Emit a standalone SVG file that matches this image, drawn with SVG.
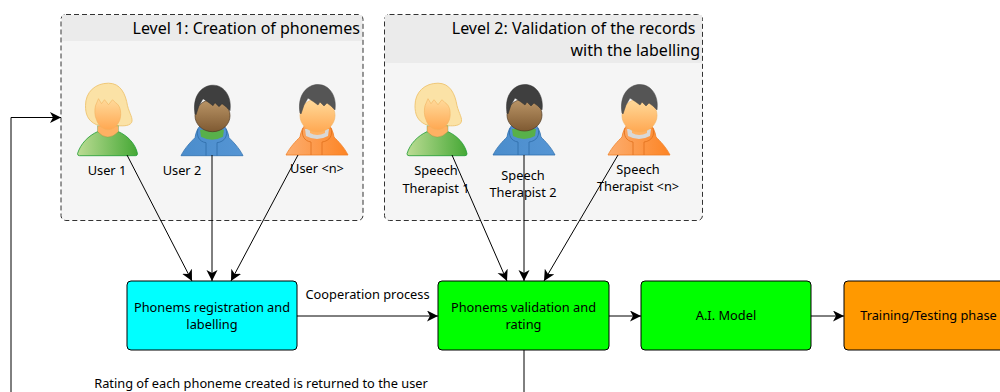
<svg xmlns="http://www.w3.org/2000/svg" xmlns:xlink="http://www.w3.org/1999/xlink" width="1000" height="392" viewBox="0 0 1000 392">
<style>
text{font-family:"Noto Sans",sans-serif;font-size:12.8px;fill:#000;text-anchor:middle}
.title{font-size:16px;text-anchor:end}
.box{stroke:#000;stroke-width:1}
.panel{fill:#f5f5f5;stroke:#333;stroke-width:1;stroke-dasharray:5 3}
.head{fill:#ebebeb}
.conn{fill:none;stroke:#000;stroke-width:1;marker-end:url(#arrow)}
.plain{fill:none;stroke:#000;stroke-width:1}
</style>
<defs>
<marker id="arrow" markerUnits="userSpaceOnUse" markerWidth="14" markerHeight="12" refX="11" refY="5.5" orient="auto">
<path d="M0,0 L11,5.5 L0,11 L3,5.5 Z" fill="#000"/>
</marker>
<linearGradient id="skin" x1="0" y1="0" x2="0" y2="1"><stop offset="0" stop-color="#ffdb9c"/><stop offset="1" stop-color="#ffa852"/></linearGradient>
<linearGradient id="dark" x1="0" y1="0" x2="0" y2="1"><stop offset="0" stop-color="#bb9668"/><stop offset="1" stop-color="#7f5a32"/></linearGradient>
<linearGradient id="shirt" x1="0" y1="0" x2="1" y2="0"><stop offset="0" stop-color="#bcdc94"/><stop offset="1" stop-color="#45a835"/></linearGradient>
<linearGradient id="blue" x1="0" y1="0" x2="1" y2="0"><stop offset="0" stop-color="#4b8dcc"/><stop offset="1" stop-color="#5595d4"/></linearGradient>
<linearGradient id="orange" x1="0" y1="0" x2="1" y2="0"><stop offset="0" stop-color="#fcae70"/><stop offset="1" stop-color="#fd8424"/></linearGradient>
<path id="hoodie" d="M-31,0 C-27,-8 -21,-14 -17,-18 C-16,-24 -14,-28 -11,-31 L11,-31 C14,-28 16,-24 17,-18 C21,-14 27,-8 31,0 Z"/>
<path id="zip" d="M-6,0 V-13 M5,0 V-13 M-14,-27 C-16,-20 -13,-14 -6,-13 M14,-27 C16,-20 13,-14 5,-13" fill="none"/>
<path id="manhair" d="M-17,-42 C-20,-60 -10,-70.5 1,-70.5 C13,-70.5 20,-58 18,-45 L14,-49 L10,-52 L7,-49 L3,-53 L1,-50 L-3,-53 L-9,-57 L-13,-50 L-16,-41 Z"/>
<g id="woman">
<path d="M-22,-50 C-22,-64 -12,-72.5 1,-72.5 C13,-72.5 18,-62 20,-50 C22,-42 26,-37 24,-33 C21,-29 14,-30 10,-30 L-11,-31 C-20,-35 -22,-42 -22,-50 Z" fill="#fbe2a6" stroke="#f0c878"/>
<path d="M-30,-2 C-27,-12 -19,-20 -10,-24 L11,-24 C20,-20 28,-12 30,-2 Q30,0 28,0 L-28,0 Q-30,0 -30,-2 Z" fill="url(#shirt)" stroke="#1c9a30" stroke-width=".8"/>
<path d="M-10,-24 Q0,-13 11,-24 L11,-30 L-10,-30 Z" fill="#ffb163" stroke="#23953a" stroke-width=".3"/>
<path d="M-12,-50 L-9,-57 L-6,-52 L-3,-56 L1,-51 L5,-56 L8,-53 C14,-50 14,-40 12,-35 C9,-28 4,-26 1,-26 C-3,-26 -9,-29 -11,-36 C-13,-40 -13,-46 -12,-50 Z" fill="url(#skin)" stroke="#f2b25e" stroke-width=".6"/>
</g>
<g id="mandark">
<use href="#hoodie" fill="url(#blue)" stroke="#2f70ae" stroke-width=".8"/>
<path d="M-12,-26 L12,-26 L11,-19 Q0,-13 -11,-19 Z" fill="#58b04a"/>
<use href="#zip" stroke="#2f6ca8" stroke-width=".8"/>
<ellipse cx="0.5" cy="-40" rx="17.5" ry="16" fill="url(#dark)" stroke="#4f3a22" stroke-width=".7"/>
<use href="#manhair" fill="#3f3f3f" stroke="#2e2e2e" stroke-width=".5"/>
</g>
<g id="manorange">
<use href="#hoodie" fill="url(#orange)" stroke="#f07f25" stroke-width=".8"/>
<path d="M-12,-26 L12,-26 L11,-19 Q0,-13 -11,-19 Z" fill="#d8d8d8"/>
<use href="#zip" stroke="#e0701c" stroke-width=".8"/>
<path d="M-7,-30 H8 V-22 Q0,-18 -7,-22 Z" fill="#ffb163"/>
<ellipse cx="0.5" cy="-39.5" rx="17.5" ry="16.5" fill="url(#skin)" stroke="#f2b25e" stroke-width=".6"/>
<use href="#manhair" fill="#555" stroke="#444" stroke-width=".5"/>
</g>
</defs>

<rect width="1000" height="392" fill="#fff"/>

<g id="level1">
<rect class="panel" x="61" y="14.5" width="302" height="206" rx="5"/>
<rect class="head" x="62" y="15" width="300" height="26"/>
<text class="title" x="360" y="34">Level 1: Creation of phonemes</text>
</g>
<g id="level2">
<rect class="panel" x="384.5" y="14.5" width="318" height="206" rx="5"/>
<rect class="head" x="385" y="15" width="317" height="48"/>
<text class="title" x="695.5" y="34">Level 2: Validation of the records</text>
<text class="title" x="700" y="56">with the labelling</text>
</g>

<g id="user1"><use href="#woman" x="107.5" y="155.7"/><text x="107" y="175">User 1</text></g>
<g id="user2"><use href="#mandark" x="212" y="155.7"/><text x="182" y="175">User 2</text></g>
<g id="usern"><use href="#manorange" x="317" y="155"/><text x="317" y="173">User &lt;n&gt;</text></g>
<g id="therapist1"><use href="#woman" x="437" y="155.7"/><text x="436" y="175">Speech</text><text x="436" y="192.5">Therapist 1</text></g>
<g id="therapist2"><use href="#mandark" x="524" y="155"/><text x="523" y="180">Speech</text><text x="523" y="197">Therapist 2</text></g>
<g id="therapistn"><use href="#manorange" x="639" y="155"/><text x="638" y="174">Speech</text><text x="638" y="191">Therapist &lt;n&gt;</text></g>

<g id="registration"><rect class="box" x="127" y="281" width="170" height="69" rx="4" fill="#00ffff"/><text x="212" y="312">Phonems registration and</text><text x="212" y="329">labelling</text></g>
<g id="validation"><rect class="box" x="438" y="281" width="171" height="69" rx="4" fill="#00ff00"/><text x="523.5" y="312">Phonems validation and</text><text x="523.5" y="329">rating</text></g>
<g id="model"><rect class="box" x="641" y="281" width="170" height="69" rx="4" fill="#00ff00"/><text x="726" y="320">A.I. Model</text></g>
<g id="training"><rect class="box" x="844" y="281" width="170" height="69" rx="4" fill="#ff9900"/><text x="928.5" y="320">Training/Testing phase</text></g>

<g id="connectors">
<path class="conn" d="M127,155 L192,281"/>
<path class="conn" d="M212,155 V281"/>
<path class="conn" d="M298,155 L231,281"/>
<path class="conn" d="M452,155 L507,281"/>
<path class="conn" d="M524,155 V281"/>
<path class="conn" d="M618,155 L544,281"/>
<path class="conn" d="M297,316 H438"/>
<path class="conn" d="M609,316 H641"/>
<path class="conn" d="M811,316 H844"/>
<path class="conn" d="M11,392 V117.5 H61"/>
<path class="plain" d="M524,350 V392"/>
</g>
<text x="367.5" y="299">Cooperation process</text>
<text x="261" y="388">Rating of each phoneme created is returned to the user</text>
</svg>
